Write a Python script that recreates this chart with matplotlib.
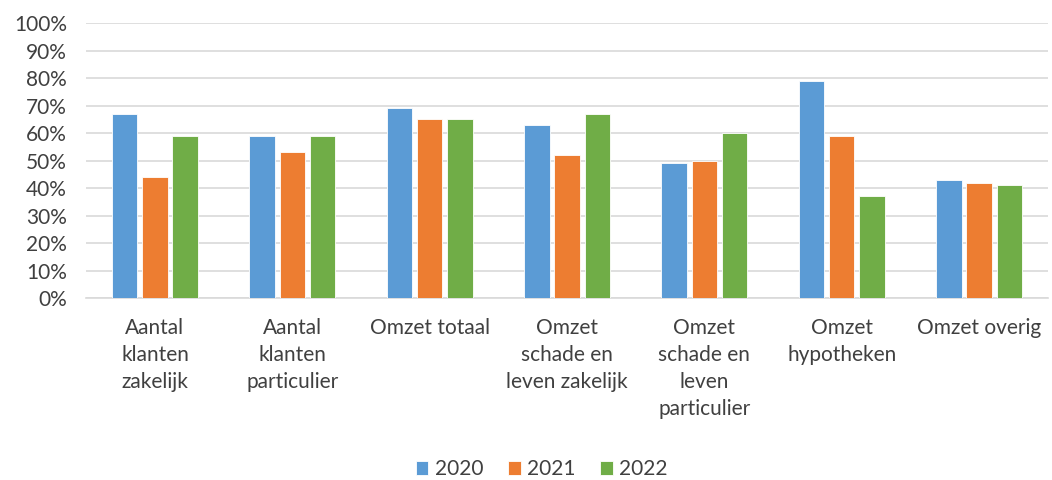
import numpy as np
import matplotlib
matplotlib.use("Agg")
from matplotlib import pyplot as plt
from matplotlib.ticker import PercentFormatter

categories = ["Aantal\nklanten\nzakelijk", "Aantal\nklanten\nparticulier", "Omzet totaal",
              "Omzet\nschade en\nleven zakelijk", "Omzet\nschade en\nleven\nparticulier",
              "Omzet\nhypotheken", "Omzet overig"]
years = ["2020", "2021", "2022"]
values_2020 = [67, 59, 69, 63, 49, 79, 43]
values_2021 = [44, 53, 65, 52, 50, 59, 42]
values_2022 = [59, 59, 65, 67, 60, 37, 41]
colors = ["#5B9BD5", "#ED7D31", "#70AD47"]

plt.rcParams['font.family'] = ['Lato', 'DejaVu Sans']

fig = plt.figure(figsize=(10.52, 4.8), dpi=100)
ax = fig.add_axes([0.082, 0.379, 0.914, 0.573])

x = np.arange(len(categories))
step = 0.22
width = 0.185
for i, (vals, year) in enumerate(zip([values_2020, values_2021, values_2022], years)):
    ax.bar(x + (i - 1) * step, vals, width, color=colors[i], label=year,
           edgecolor="white", linewidth=0.6, zorder=3)

ax.set_xlim(-0.5, len(categories) - 0.5)
ax.set_ylim(0, 100)
ax.set_yticks(range(0, 101, 10))
ax.yaxis.set_major_formatter(PercentFormatter(decimals=0))
ax.grid(axis='y', color='#D9D9D9', linewidth=1.2, zorder=0)
for s in ['top', 'right', 'left']:
    ax.spines[s].set_visible(False)
ax.spines['bottom'].set_color('#D9D9D9')
ax.spines['bottom'].set_linewidth(1.2)
ax.set_xticks(x)
ax.set_xticklabels(categories)
ax.tick_params(axis='both', length=0, labelsize=15, labelcolor='#404040')
ax.tick_params(axis='x', pad=14)
ax.tick_params(axis='y', pad=14)
for lbl in ax.get_xticklabels():
    lbl.set_linespacing(1.45)

fig.legend(loc='center', bbox_to_anchor=(0.515, 0.022), ncol=3, frameon=False,
           fontsize=15, handlelength=0.6, handleheight=0.6, columnspacing=1.2,
           handletextpad=0.3, labelcolor='#404040')

fig.savefig("out.png", dpi=100)
